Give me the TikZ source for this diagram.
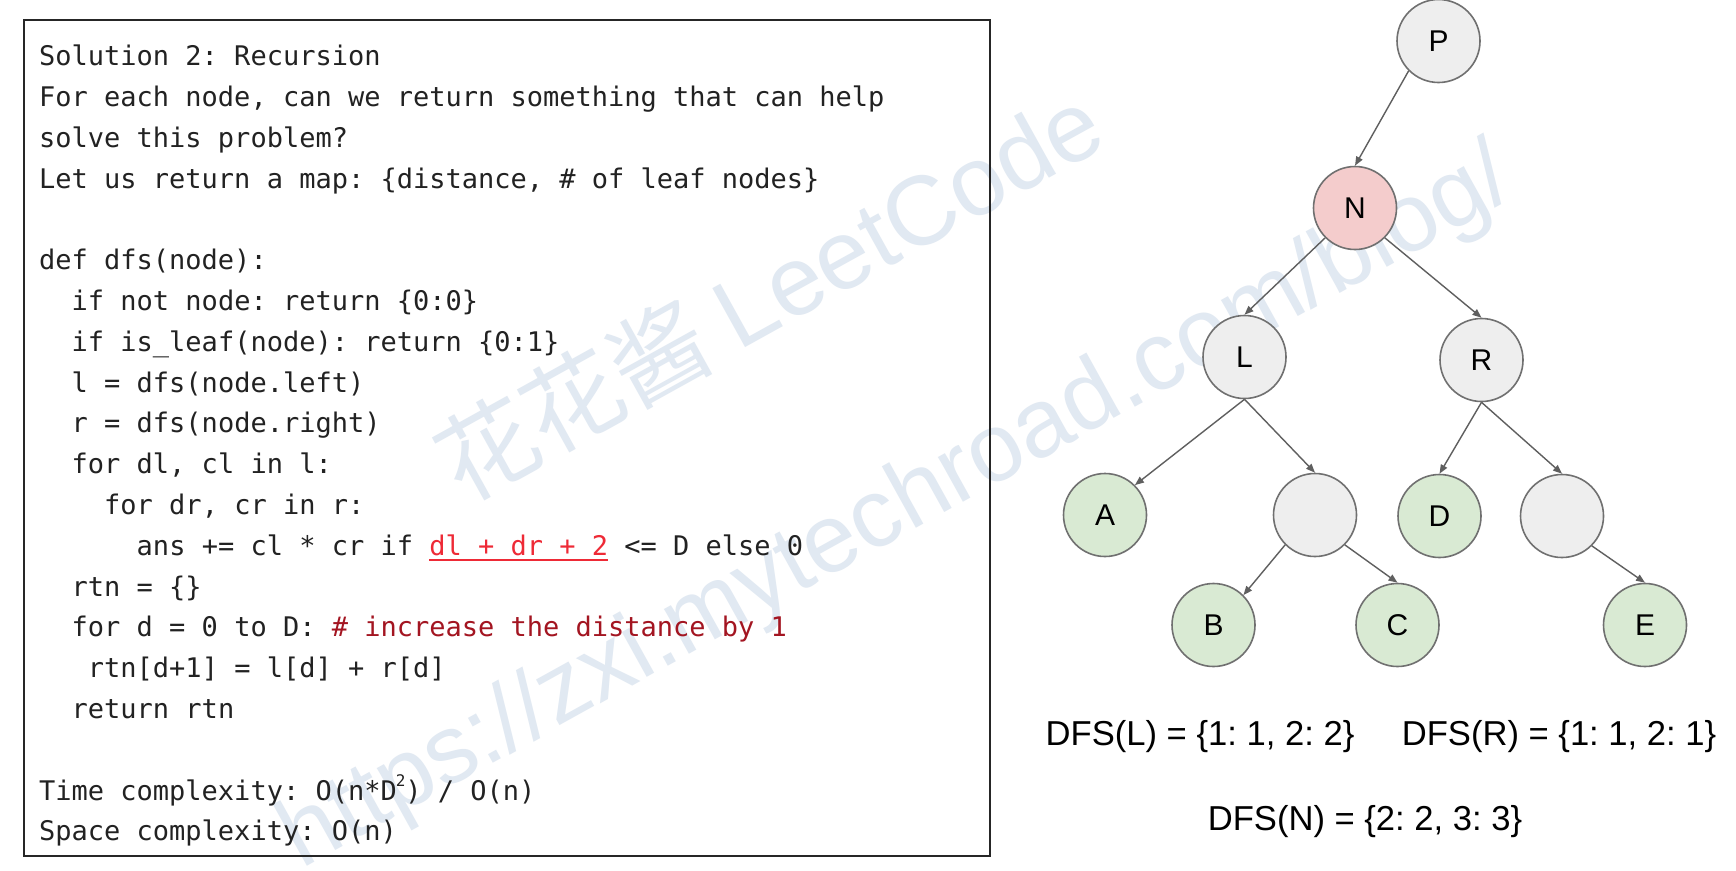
\documentclass[tikz,border=0pt]{standalone}
\usepackage{fontspec}
\usetikzlibrary{arrows.meta}
\setmainfont{Liberation Sans}
\newfontfamily\codefont{DejaVu Sans Mono}
\newfontfamily\cjkfont{Noto Sans CJK SC}
\newfontfamily\wmfont{Liberation Sans}
\definecolor{wmark}{HTML}{E1E9F2}
\definecolor{codeink}{HTML}{222222}
\definecolor{hlred}{HTML}{EE2A36}
\definecolor{cmtred}{HTML}{A31521}
\definecolor{nodegray}{HTML}{EEEEEE}
\definecolor{nodegreen}{HTML}{D9EAD3}
\definecolor{nodepink}{HTML}{F4CCCC}
\definecolor{nodeline}{HTML}{707070}
\definecolor{edgeline}{HTML}{5F5F5F}
\tikzset{
  code/.style={anchor=base west, inner sep=0pt, text=codeink, font=\codefont\fontsize{27}{27}\selectfont\frenchspacing},
  tnode/.style={circle, draw=nodeline, line width=1.6pt, minimum size=83pt, inner sep=0pt, font=\fontsize{30}{30}\selectfont},
  gnode/.style={tnode, fill=nodegray},
  lnode/.style={tnode, fill=nodegreen},
  pnode/.style={tnode, fill=nodepink},
  edge/.style={draw=edgeline, line width=1.4pt, -{Triangle[length=9pt,width=7pt]}},
  lab/.style={anchor=base, inner sep=0pt, font=\fontsize{34.6}{34.6}\selectfont\frenchspacing},
  wm/.style={text=wmark, inner sep=0pt, rotate=29}
}
\begin{document}
\frenchspacing
\begin{tikzpicture}[x=1pt,y=-1pt]
\useasboundingbox (0,0) rectangle (1736,870);
\fill[white] (0,0) rectangle (1736,870);
% watermark
\node[wm] (wm1) at (768,292) {\cjkfont\fontsize{98}{98}\selectfont 花花酱 \wmfont LeetCode};
\node[wm] (wm2) at (898,510) {\wmfont\fontsize{97}{97}\selectfont https://zxi.mytechroad.com/blog/};
% box
\draw[line width=2pt, draw=black!85] (23.5,19.5) rectangle (990,856);
% code lines
\def\cx#1{39+#1*16.257}
\def\ly#1{65.7+#1*40.8}
\node[code] (c0) at ({\cx{0}},{\ly{0}}) {Solution 2: Recursion};
\node[code] (c1) at ({\cx{0}},{\ly{1}}) {For each node, can we return something that can help};
\node[code] (c2) at ({\cx{0}},{\ly{2}}) {solve this problem?};
\node[code] (c3) at ({\cx{0}},{\ly{3}}) {Let us return a map: \{distance, \# of leaf nodes\}};
\node[code] (c5) at ({\cx{0}},{\ly{5}}) {def dfs(node):};
\node[code] (c6) at ({\cx{2}},{\ly{6}}) {if not node: return \{0:0\}};
\node[code] (c7) at ({\cx{2}},{\ly{7}}) {if is\_leaf(node): return \{0:1\}};
\node[code] (c8) at ({\cx{2}},{\ly{8}}) {l = dfs(node.left)};
\node[code] (c9) at ({\cx{2}},{\ly{9}}) {r = dfs(node.right)};
\node[code] (c10) at ({\cx{2}},{\ly{10}}) {for dl, cl in l:};
\node[code] (c11) at ({\cx{4}},{\ly{11}}) {for dr, cr in r:};
\node[code] (c12) at ({\cx{6}},{\ly{12}}) {ans += cl * cr if \textcolor{hlred}{dl + dr + 2} <= D else 0};
\coordinate (u1) at ({\cx{24}},{\ly{12}+4.5});
\coordinate (u2) at ({\cx{35}},{\ly{12}+4.5});
\draw[hlred, line width=2.2pt] (u1) -- (u2);
\node[code] (c13) at ({\cx{2}},{\ly{13}}) {rtn = \{\}};
\node[code] (c14) at ({\cx{2}},{\ly{14}}) {for d = 0 to D: \textcolor{cmtred}{\# increase the distance by 1}};
\node[code] (c15) at ({\cx{3}},{\ly{15}}) {rtn[d+1] = l[d] + r[d]};
\node[code] (c16) at ({\cx{2}},{\ly{16}}) {return rtn};
\node[code] (c18) at ({\cx{0}},{\ly{18}}) {Time complexity: O(n*D\kern-1pt\raisebox{0.5em}{\fontsize{16}{16}\selectfont 2}) / O(n)};
\node[code] (c19) at ({\cx{0}},{\ly{19}}) {Space complexity: O(n)};
% tree
\node[gnode] (P) at (1438.5,41) {P};
\node[pnode] (N) at (1355,208) {N};
\node[gnode] (L) at (1244.5,357) {L};
\node[gnode] (R) at (1481.5,360) {R};
\node[lnode] (A) at (1105,515) {A};
\node[gnode] (X1) at (1315,515) {};
\node[lnode] (D) at (1439.5,516) {D};
\node[gnode] (X2) at (1562,516) {};
\node[lnode] (B) at (1213.5,625) {B};
\node[lnode] (C) at (1397.5,625) {C};
\node[lnode] (E) at (1645,625) {E};
\draw[edge] (P.225) -- (N.north);
\draw[edge] (N.225) -- (L.north);
\draw[edge] (N.315) -- (R.north);
\draw[edge] (L.south) -- (A.45);
\draw[edge] (L.south) -- (X1.north);
\draw[edge] (R.south) -- (D.north);
\draw[edge] (R.south) -- (X2.north);
\draw[edge] (X1.225) -- (B.45);
\draw[edge] (X1.315) -- (C.north);
\draw[edge] (X2.315) -- (E.north);
% labels
\node[lab] (dl) at (1200,745) {DFS(L) = \{1: 1, 2: 2\}};
\node[lab] (dr) at (1559,745) {DFS(R) = \{1: 1, 2: 1\}};
\node[lab] (dn) at (1365,830.7) {DFS(N) = \{2: 2, 3: 3\}};
\end{tikzpicture}
\end{document}
